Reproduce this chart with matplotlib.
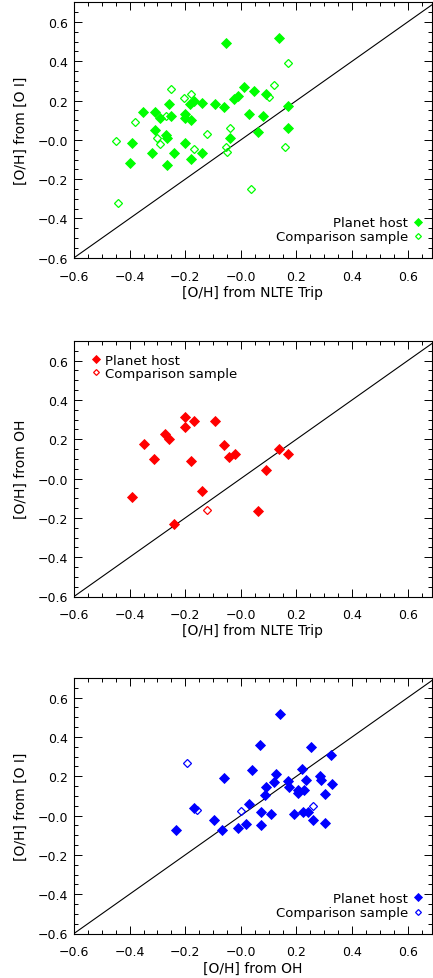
import matplotlib
matplotlib.use("Agg")
import matplotlib.pyplot as plt
from matplotlib.ticker import MultipleLocator, FixedLocator

# ---------------- data ----------------
# Panel 1: [O/H] from [O I] vs NLTE triplet (green)
x1_host = [-0.054, 0.138, -0.351, -0.309, -0.29, -0.26, -0.252, -0.2, -0.2, -0.18,
           -0.182, -0.168, -0.14, -0.092, -0.062, -0.024, -0.012, 0.012, 0.048, 0.03,
           0.078, 0.06, 0.09, 0.168, 0.168, -0.309, -0.27, -0.264, -0.2, -0.39,
           -0.04, -0.32, -0.24, -0.14, -0.40, -0.264, -0.18]
y1_host = [0.493, 0.52, 0.14, 0.14, 0.113, 0.18, 0.122, 0.13, 0.113, 0.10,
           0.18, 0.197, 0.19, 0.18, 0.169, 0.21, 0.223, 0.27, 0.25, 0.13,
           0.122, 0.042, 0.231, 0.174, 0.062, 0.05, 0.025, 0.012, -0.017, -0.017,
           0.012, -0.068, -0.068, -0.068, -0.119, -0.127, -0.098]
x1_comp = [-0.45, -0.38, -0.25, -0.204, -0.178, -0.27, -0.30, -0.29, -0.12, -0.04,
           -0.054, 0.12, 0.102, 0.17, 0.158, -0.17, -0.05, 0.038, -0.44]
y1_comp = [-0.008, 0.09, 0.26, 0.214, 0.231, 0.123, 0.012, -0.02, 0.03, 0.062,
           -0.037, 0.278, 0.216, 0.39, -0.038, -0.045, -0.063, -0.25, -0.32]

# Panel 2: [O/H] from OH vs NLTE triplet (red)
x2_host = [-0.35, -0.312, -0.272, -0.26, -0.20, -0.20, -0.17, -0.18, -0.092, -0.062,
           -0.042, -0.02, 0.138, 0.17, 0.09, -0.392, -0.14, -0.242, 0.06]
y2_host = [0.178, 0.098, 0.226, 0.20, 0.312, 0.26, 0.295, 0.089, 0.295, 0.172,
           0.111, 0.127, 0.149, 0.124, 0.043, -0.094, -0.065, -0.233, -0.165]
x2_comp = [-0.12]
y2_comp = [-0.16]

# Panel 3: [O/H] from [O I] vs OH (blue)
x3_host = [0.141, 0.07, 0.252, 0.324, 0.04, -0.062, 0.126, 0.12, 0.092, 0.169,
           0.174, 0.22, 0.234, 0.207, 0.228, 0.286, 0.29, 0.327, 0.303, 0.088,
           -0.168, -0.234, -0.098, -0.066, -0.012, 0.018, 0.03, 0.072, 0.072, 0.108,
           0.192, 0.222, 0.24, 0.26, 0.303, 0.204]
y3_host = [0.519, 0.36, 0.351, 0.309, 0.23, 0.193, 0.21, 0.171, 0.143, 0.175,
           0.146, 0.235, 0.183, 0.129, 0.129, 0.2, 0.183, 0.163, 0.109, 0.104,
           0.039, -0.071, -0.02, -0.071, -0.064, -0.042, 0.059, -0.05, 0.02, 0.008,
           0.008, 0.02, 0.017, -0.02, -0.04, 0.114]
x3_comp = [-0.192, -0.158, 0.0, 0.258]
y3_comp = [0.269, 0.03, 0.025, 0.047]

tick_vals = [-0.6, -0.4, -0.2, 0.0, 0.2, 0.4, 0.6]
xtick_labels = ["\u22120.6", "\u22120.4", "\u22120.2", "\u22120.0", "0.2", "0.4", "0.6"]
ytick_labels = ["\u22120.6", "\u22120.4", "\u22120.2", "\u22120.0", "0.2", "0.4", "0.6"]

panels = [
    dict(xh=x1_host, yh=y1_host, xc=x1_comp, yc=y1_comp, color="#00ff00",
         xlabel="[O/H] from NLTE Trip", ylabel="[O/H] from [O I]", legend="lower right"),
    dict(xh=x2_host, yh=y2_host, xc=x2_comp, yc=y2_comp, color="#ff0000",
         xlabel="[O/H] from NLTE Trip", ylabel="[O/H] from OH", legend="upper left"),
    dict(xh=x3_host, yh=y3_host, xc=x3_comp, yc=y3_comp, color="#0000ff",
         xlabel="[O/H] from OH", ylabel="[O/H] from [O I]", legend="lower right"),
]

W, H = 433, 979
fig = plt.figure(figsize=(W / 100, H / 100), dpi=100)
plt.rcParams['font.family'] = ['DejaVu Sans']

left_px, right_px = 74, 432
tops = [3.3, 342, 679]
hgt = 255.5

for p, top in zip(panels, tops):
    ax = fig.add_axes([left_px / W, (H - top - hgt) / H, (right_px - left_px) / W, hgt / H])
    ax.set_xlim(-0.6, 0.6874)
    ax.set_ylim(-0.6, 0.7)
    ax.plot([-0.6, 0.7], [-0.6, 0.7], color="black", lw=0.8, zorder=1)
    ax.plot(p["xh"], p["yh"], linestyle="none", marker="D", ms=5.5, mfc=p["color"],
            mec=p["color"], mew=0.6, label="Planet host", zorder=3)
    ax.plot(p["xc"], p["yc"], linestyle="none", marker="D", ms=3.7, mfc="none",
            mec=p["color"], mew=0.9, label="Comparison sample", zorder=3)
    ax.xaxis.set_major_locator(FixedLocator(tick_vals))
    ax.yaxis.set_major_locator(FixedLocator(tick_vals))
    ax.set_xticklabels(xtick_labels)
    ax.set_yticklabels(ytick_labels)
    ax.xaxis.set_minor_locator(MultipleLocator(0.05))
    ax.yaxis.set_minor_locator(MultipleLocator(0.05))
    ax.tick_params(which="both", direction="in", top=True, right=True, width=0.7,
                   color="black")
    ax.tick_params(which="major", length=6, labelsize=9)
    ax.tick_params(which="minor", length=3)
    ax.tick_params(axis="x", which="major", pad=8.5)
    ax.tick_params(axis="y", which="major", pad=4)
    for s in ax.spines.values():
        s.set_linewidth(0.8)
    ax.set_xlabel(p["xlabel"], fontsize=10, labelpad=1.5)
    ax.set_ylabel(p["ylabel"], fontsize=10, labelpad=7)
    if p["legend"] == "lower right":
        ax.legend(loc="lower right", markerfirst=False, frameon=False, fontsize=9.5,
                  handlelength=0.8, handletextpad=0.35, labelspacing=0.1,
                  borderaxespad=0.3, borderpad=0.3, markerscale=0.8,
                  bbox_to_anchor=(0.997, 0.025))
    else:
        ax.legend(loc="upper left", markerfirst=True, frameon=False, fontsize=9.5,
                  handlelength=0.8, handletextpad=0.25, labelspacing=0.0,
                  borderaxespad=0.3, borderpad=0.3, markerscale=0.8,
                  bbox_to_anchor=(0.025, 0.98))

fig.savefig("out.png", dpi=100)
